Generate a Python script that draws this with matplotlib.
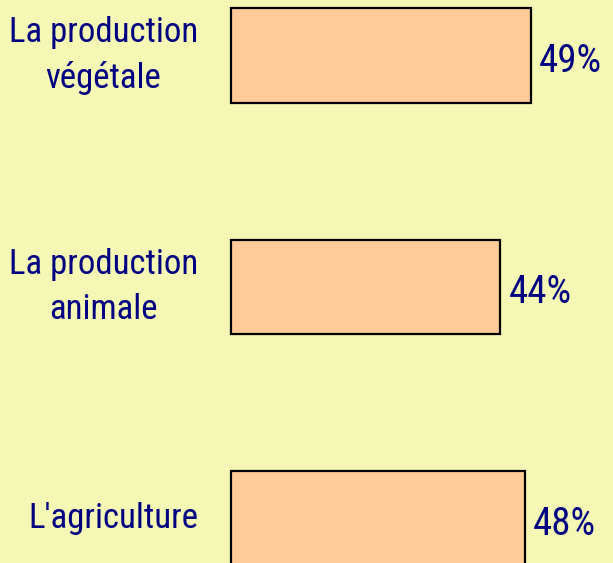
import matplotlib
matplotlib.use("Agg")
from matplotlib import pyplot as plt
from matplotlib import font_manager

# pick a narrow font if one is installed
names = set(f.name for f in font_manager.fontManager.ttflist)
narrow = [n for n in ["Liberation Sans Narrow", "DejaVu Sans Condensed", "Roboto Condensed"] if n in names]
plt.rcParams['font.family'] = narrow + ['DejaVu Sans']

labels = ["La production\nvégétale", "La production\nanimale", "L'agriculture"]
values = [49, 44, 48]
value_labels = ["49%", "44%", "48%"]

bg = "#F5F7B4"
navy = "#000080"

fig = plt.figure(figsize=(6.13, 5.63), dpi=100, facecolor=bg)
ax = fig.add_axes([0, 0, 1, 1])
ax.set_facecolor(bg)

y = list(range(len(labels)))
ax.barh(y, values, height=0.41, color="#FFCC99", edgecolor="black", linewidth=1.6)

for i in y:
    ax.text(-5.4, i, labels[i], ha="right", va="center", multialignment="center",
            color=navy, fontsize=25, linespacing=1.45)
    ax.text(values[i] + 1.3, i + 0.025, value_labels[i], ha="left", va="center",
            color=navy, fontsize=28)

ax.set_xlim(-37.75, 62.4)
ax.set_ylim(2.192, -0.2397)
ax.axis("off")

fig.savefig("out.png", dpi=100, facecolor=bg)
